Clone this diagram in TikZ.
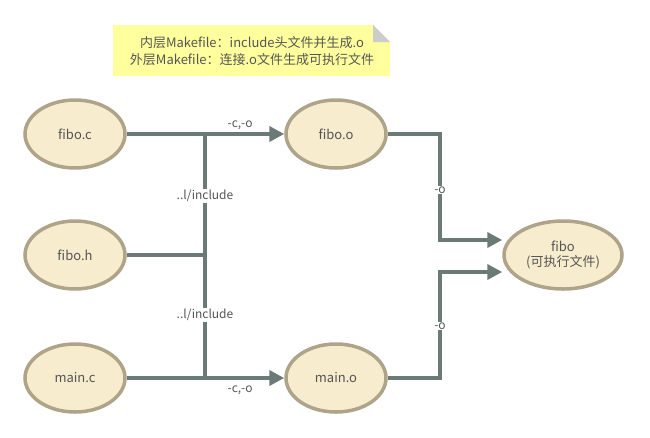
\documentclass[tikz,border=0pt]{standalone}
\usepackage{fontspec}
\setmainfont{Noto Sans CJK SC}
\usetikzlibrary{arrows.meta,shapes.geometric}
\definecolor{efill}{HTML}{F7ECCD}
\definecolor{edraw}{HTML}{ADA48A}
\definecolor{lcol}{HTML}{6B7A77}
\definecolor{tcol}{HTML}{555555}
\definecolor{notey}{HTML}{FFFF9E}
\definecolor{foldg}{HTML}{CCCCCC}
\tikzset{
  fnode/.style={ellipse,fill=efill,draw=edraw,line width=3.5pt,minimum width=100pt,minimum height=68pt,inner sep=0pt,text=tcol,font=\fontsize{13}{15}\selectfont,align=center},
  conn/.style={draw=lcol,line width=4pt},
  arr/.style={conn,-{Triangle[length=15pt,width=15pt]}},
  elab/.style={font=\fontsize{12}{14}\selectfont,text=tcol,inner sep=1pt},
  elabbg/.style={elab,fill=white}
}
\begin{document}
\begin{tikzpicture}[x=1pt,y=-1pt]
\useasboundingbox (0,0) rectangle (650,437);
% note
\fill[notey] (113,25) -- (373,25) -- (390,42) -- (390,76) -- (113,76) -- cycle;
\fill[foldg] (373,25) -- (390,42) -- (373,42) -- cycle;
\node[font=\fontsize{13}{16.5}\selectfont,text=tcol,align=center] (note) at (252,51) {内层Makefile：include头文件并生成.o\\外层Makefile：连接.o文件生成可执行文件};
% nodes
\node[fnode] (fc) at (75,134) {fibo.c};
\node[fnode] (fh) at (75,255) {fibo.h};
\node[fnode] (mc) at (75,378) {main.c};
\node[fnode] (fo) at (336,134) {fibo.o};
\node[fnode] (mo) at (336,378) {main.o};
\node[fnode,minimum width=118pt] (fb) at (563,255) {fibo\\(可执行文件)};
\coordinate (j1) at (205,134);
\coordinate (j2) at (205,255);
\coordinate (j3) at (205,378);
\coordinate (r1) at (440,134);
\coordinate (r2) at (440,240);
\coordinate (r3) at (440,378);
\coordinate (r4) at (440,272);
% connectors
\draw[arr] (fc.east) -- (fo.west) node[elab,pos=0.72,above=1pt] {-c,-o};
\draw[arr] (mc.east) -- (mo.west) node[elab,pos=0.72,below=5pt] {-c,-o};
\draw[conn] (fh.east) -- (j2);
\draw[conn] (j1) -- (j3);
\node[elabbg] (inc1) at (205,196) {..l/include};
\node[elabbg] (inc2) at (205,315) {..l/include};
\draw[arr] (fo.east) -- (r1) -- (r2) -- (r2 -| fb.west);
\draw[arr] (mo.east) -- (r3) -- (r4) -- (r4 -| fb.west);
\node[elabbg] (o1) at (440,190) {-o};
\node[elabbg] (o2) at (440,326) {-o};
\end{tikzpicture}
\end{document}
